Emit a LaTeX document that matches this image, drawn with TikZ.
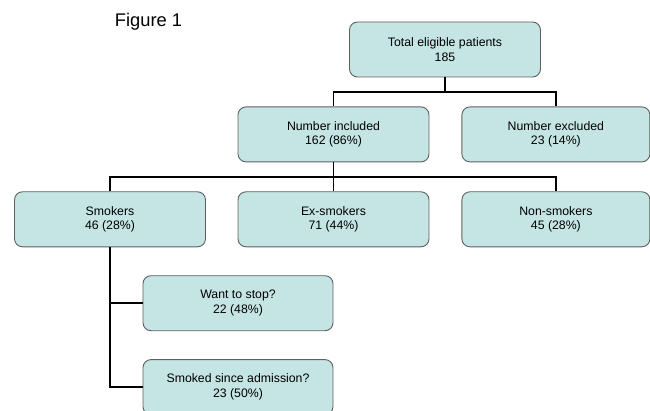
\documentclass[tikz,border=0pt]{standalone}
\usepackage{fontspec}
\setmainfont{Liberation Sans}
\usepackage{xcolor}
\usetikzlibrary{positioning,calc}
\definecolor{boxfill}{RGB}{197,229,229}
\definecolor{boxline}{RGB}{95,95,95}
\tikzset{
  fbox/.style = {rectangle, rounded corners=8pt, draw=boxline, line width=0.9pt, fill=boxfill,
                 align=center, font=\fontsize{12.3}{14.6}\selectfont,
                 minimum width=191pt, minimum height=55pt, inner sep=2pt},
  ln/.style   = {line width=1.9pt, black},
}
\begin{document}
\begin{tikzpicture}[x=1pt,y=1pt]
  \useasboundingbox (0,0) rectangle (650,410);
  \clip (0,0) rectangle (650,410);
  \node[font=\fontsize{18.3}{20}\selectfont] (fig) at (148.5,388) {Figure 1};
  \node[fbox] (total) at (445,360.5) {Total eligible patients\\185};
  \node[fbox, below=29pt of total, xshift=-111.5pt] (incl) {Number included\\162 (86\%)};
  \node[fbox, right=32pt of incl, minimum width=188pt] (excl) {Number excluded\\23 (14\%)};
  \node[fbox, below=29pt of incl, xshift=-223.5pt] (smk) {Smokers\\46 (28\%)};
  \node[fbox, below=29pt of incl] (exs) {Ex-smokers\\71 (44\%)};
  \node[fbox, below=29pt of excl, minimum width=188pt] (non) {Non-smokers\\45 (28\%)};
  \node[fbox, below=28pt of smk, xshift=128pt, minimum width=190pt] (want) {Want to stop?\\22 (48\%)};
  \node[fbox, below=28pt of want, minimum width=190pt] (since) {Smoked since admission?\\23 (50\%)};
  % connectors
  \draw[ln] (total.south) -- ++(0,-15pt) -| (incl.north);
  \draw[ln] (total.south) -- ++(0,-15pt) -| (excl.north);
  \draw[ln] (incl.south) -- ++(0,-15pt) -| (smk.north);
  \draw[ln] (incl.south) -- (exs.north);
  \draw[ln] (incl.south) -- ++(0,-15pt) -| (non.north);
  \draw[ln] (smk.south) |- (since.west);
  \draw[ln] (smk.south |- want.west) -- (want.west);
\end{tikzpicture}
\end{document}
